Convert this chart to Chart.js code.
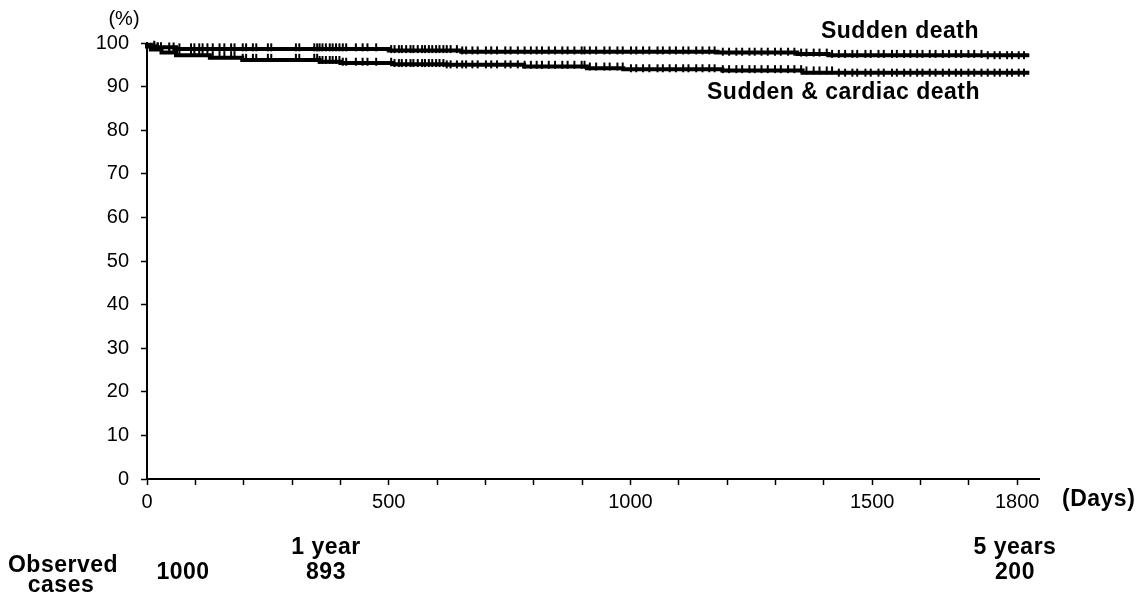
<!DOCTYPE html>
<html>
<head>
<meta charset="utf-8">
<script src="https://cdn.jsdelivr.net/npm/chart.js@4.4.0/dist/chart.umd.min.js"></script>
<style>
  html, body { margin: 0; padding: 0; background: #fff; }
  #wrap { width: 1142px; height: 598px; }
</style>
</head>
<body>
<div id="wrap"><canvas id="km"></canvas></div>
<script>
// Kaplan-Meier steps (day, % event-free)
const suddenDays = [0, 8, 20, 60, 500, 650, 1180, 1345, 1410, 1730];
const suddenPct  = [100, 99.6, 99.2, 99.0, 98.6, 98.3, 98.0, 97.8, 97.5, 97.2];
const cardiacDays = [0, 8, 30, 60, 130, 197, 357, 400, 507, 620, 780, 910, 985, 1190, 1356, 1420];
const cardiacPct  = [100, 99.2, 98.5, 97.8, 97.2, 96.6, 96.1, 95.7, 95.4, 95.1, 95.0, 94.6, 94.2, 94.0, 93.7, 93.2];
const lastDay = 1825;

// censored observations (tick marks), shared by both curves
const censoredDays = [15, 22, 29, 46, 55, 67, 91, 98, 108, 115, 125, 136, 150, 160, 174, 181, 198, 205,
  219, 226, 250, 257, 308, 315, 346, 352, 357, 363, 370, 378, 384, 391, 398, 405, 412, 432, 446, 456, 474,
  505, 512, 521, 527, 536, 545, 551, 560, 569, 575, 583, 590, 598, 605, 613, 620, 628, 641, 652, 660, 673,
  684, 701, 712, 724, 741, 752, 767, 781, 794, 806, 817, 831, 844, 859, 870, 884, 899, 905, 916, 929, 946,
  957, 973, 984, 1001, 1012, 1026, 1039, 1056, 1067, 1081, 1094, 1109, 1120, 1136, 1149, 1163, 1174, 1191,
  1204, 1219, 1231, 1246, 1257, 1271, 1284, 1299, 1311, 1326, 1339, 1353, 1364, 1379, 1391, 1406, 1417,
  1431, 1444, 1459, 1469, 1486, 1497, 1513, 1524, 1541, 1551, 1566, 1579, 1593, 1604, 1619, 1631, 1646,
  1659, 1673, 1684, 1699, 1711, 1726, 1739, 1753, 1764, 1779, 1789, 1803, 1814];

const yTicks = [0, 10, 20, 30, 40, 50, 60, 70, 80, 90, 100];
const xTickLabels = [0, 500, 1000, 1500, 1800];

const curveNames = ['Sudden death', 'Sudden & cardiac death'];
const observedTitle = ['Observed', 'cases'];
const observedWhen = ['', '1 year', '5 years'];
const observedCount = ['1000', '893', '200'];

function stepPoints(days, pct) {
  const pts = days.map((d, i) => ({ x: d, y: pct[i] }));
  pts.push({ x: lastDay, y: pct[pct.length - 1] });
  return pts;
}
function valueAt(days, pct, t) {
  let v = pct[0];
  for (let i = 0; i < days.length; i++) if (days[i] <= t) v = pct[i];
  return v;
}
function censorPoints(days, pct) {
  return censoredDays.map(t => ({ x: t, y: valueAt(days, pct, t) }));
}

const labelsPlugin = {
  id: 'labels',
  afterDraw(chart) {
    const ctx = chart.ctx;
    ctx.save();
    ctx.fillStyle = '#000';
    ctx.textBaseline = 'middle';

    ctx.font = '20px "Liberation Sans", Arial, sans-serif';
    ctx.textAlign = 'center';
    ctx.fillText('(%)', 124, 19);

    ctx.font = 'bold 23px "Liberation Sans", Arial, sans-serif';
    ctx.letterSpacing = '0.5px';
    ctx.textAlign = 'right';
    ctx.fillText(curveNames[0], 979, 32);
    ctx.fillText(curveNames[1], 980, 93);

    ctx.textAlign = 'left';
    ctx.fillText('(Days)', 1062, 500);

    ctx.textAlign = 'center';
    ctx.fillText(observedTitle[0], 63, 566);
    ctx.fillText(observedTitle[1], 61, 586);
    const cx = [183, 326, 1015];
    for (let i = 0; i < cx.length; i++) {
      if (observedWhen[i]) ctx.fillText(observedWhen[i], cx[i], 548);
      ctx.fillText(observedCount[i], cx[i], 573);
    }
    ctx.restore();
  }
};

const censorStyle = {
  pointStyle: 'line',
  rotation: 90,
  radius: 4,
  borderColor: '#000',
  borderWidth: 2,
  clip: false
};

new Chart(document.getElementById('km').getContext('2d'), {
  type: 'scatter',
  data: {
    datasets: [
      {
        label: curveNames[0],
        type: 'line',
        data: stepPoints(suddenDays, suddenPct),
        stepped: 'after',
        borderColor: '#000',
        borderWidth: 4,
        pointRadius: 0,
        clip: false
      },
      {
        label: curveNames[1],
        type: 'line',
        data: stepPoints(cardiacDays, cardiacPct),
        stepped: 'after',
        borderColor: '#000',
        borderWidth: 4,
        pointRadius: 0,
        clip: false
      },
      Object.assign({ label: 'censored 1', data: censorPoints(suddenDays, suddenPct) }, censorStyle),
      Object.assign({ label: 'censored 2', data: censorPoints(cardiacDays, cardiacPct) }, censorStyle)
    ]
  },
  options: {
    responsive: true,
    maintainAspectRatio: false,
    animation: false,
    layout: { padding: { left: 0, right: 103, top: 43, bottom: 0 } },
    plugins: { legend: { display: false }, tooltip: { enabled: false } },
    scales: {
      x: {
        type: 'linear',
        min: 0,
        max: 1845,
        afterFit: s => { s.height = 119; },
        border: { color: '#000', width: 2 },
        grid: { drawOnChartArea: false, drawTicks: true, tickLength: 6, color: '#000', tickWidth: 1.5 },
        ticks: {
          stepSize: 100,
          includeBounds: false,
          maxRotation: 0,
          autoSkip: false,
          padding: 5,
          color: '#000',
          font: { family: '"Liberation Sans", Arial, sans-serif', size: 20 },
          callback: v => xTickLabels.includes(v) ? String(v) : ''
        }
      },
      y: {
        min: 0,
        max: 100,
        afterFit: s => { s.width = 147; },
        afterBuildTicks: s => { s.ticks = yTicks.map(v => ({ value: v })); },
        border: { color: '#000', width: 2 },
        grid: { drawOnChartArea: false, drawTicks: true, tickLength: 6, color: '#000', tickWidth: 1.5 },
        ticks: {
          padding: 12,
          color: '#000',
          font: { family: '"Liberation Sans", Arial, sans-serif', size: 20 }
        }
      }
    }
  },
  plugins: [labelsPlugin]
});
</script>
</body>
</html>
